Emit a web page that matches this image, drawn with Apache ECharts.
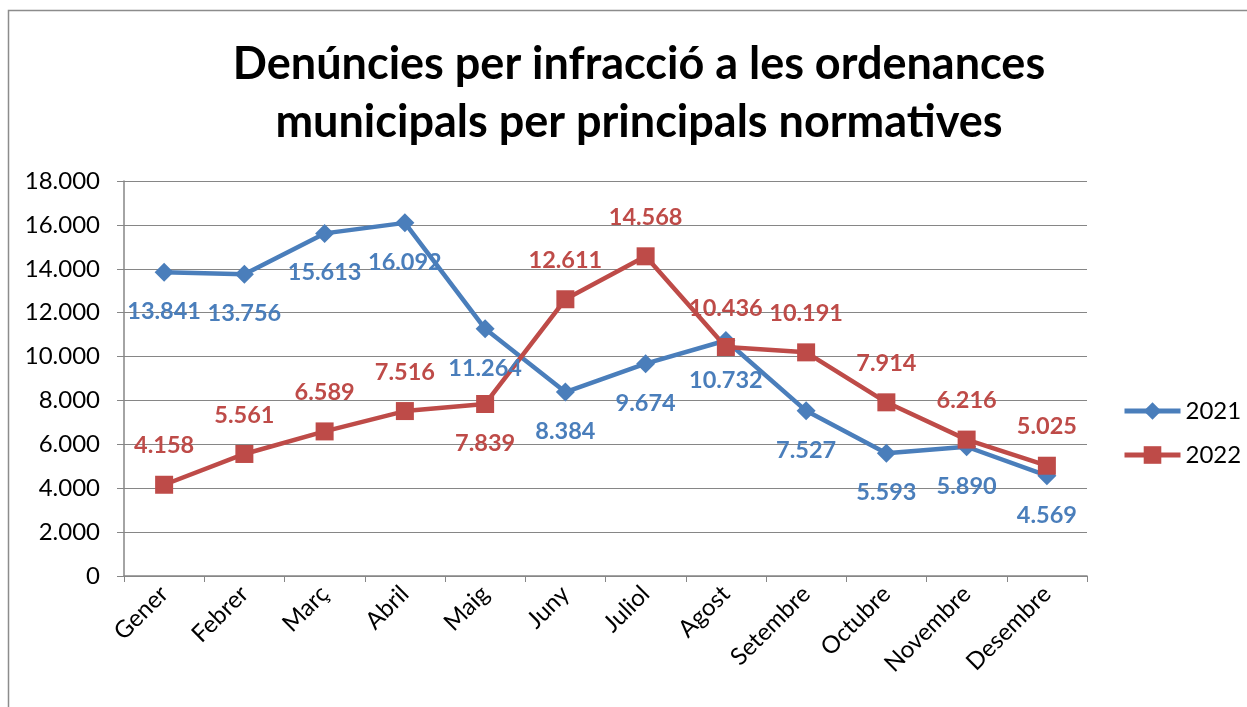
<!DOCTYPE html>
<html>
<head>
<meta charset="UTF-8">
<title>Denúncies per infracció</title>
<script type="text/javascript" src="https://cdn.jsdelivr.net/npm/echarts@6/dist/echarts.min.js"></script>
<style>
	html, body { margin: 0; padding: 0; background: #fff; }
</style>
</head>
<body>
	<div id="box" style="width: 1247px; height: 707px;"></div>

	<script type="text/javascript">
		var months = ['Gener', 'Febrer', 'Març', 'Abril', 'Maig', 'Juny', 'Juliol', 'Agost', 'Setembre', 'Octubre', 'Novembre', 'Desembre'];
		var vals2021 = [13841, 13756, 15613, 16092, 11264, 8384, 9674, 10732, 7527, 5593, 5890, 4569];
		var vals2022 = [4158, 5561, 6589, 7516, 7839, 12611, 14568, 10436, 10191, 7914, 6216, 5025];
		// posició de l'etiqueta de 2022 (Maig va a sota)
		var pos2022 = ['top', 'top', 'top', 'top', 'bottom', 'top', 'top', 'top', 'top', 'top', 'top', 'top'];

		var FONT = 'Lato, "Open Sans", sans-serif';

		function fmt(v) {
			return String(v).replace(/\B(?=(\d{3})+(?!\d))/g, '.');
		}

		var data2022 = vals2022.map(function (v, i) {
			return { value: v, label: { position: pos2022[i] } };
		});

		var myChart = echarts.init(document.getElementById('box'));
		myChart.setOption({
			animation: false,
			textStyle: { fontFamily: FONT },
			title: {
				text: 'Denúncies per infracció a les ordenances\nmunicipals per principals normatives',
				left: 634,
				textAlign: 'center',
				top: 30,
				textStyle: { fontSize: 45, fontWeight: 'bold', color: '#000', lineHeight: 58, fontFamily: FONT }
			},
			graphic: [{
				type: 'rect',
				shape: { x: 8.5, y: 10.5, width: 1260, height: 720 },
				style: { fill: 'none', stroke: '#8c8c8c', lineWidth: 1.5 },
				silent: true
			}],
			legend: {
				orient: 'vertical',
				left: 1117,
				top: 394,
				itemGap: 20,
				itemWidth: 56,
				itemHeight: 22,
				lineStyle: { width: 5 },
				textStyle: { fontSize: 24, color: '#000', fontFamily: FONT },
				data: ['2021', '2022']
			},
			grid: { left: 124, right: 160, top: 181, bottom: 131 },
			xAxis: {
				type: 'category',
				data: months,
				boundaryGap: true,
				axisLine: { lineStyle: { color: '#868686', width: 1.5 } },
				axisTick: { show: true, length: 6, lineStyle: { color: '#868686' } },
				axisLabel: { rotate: 45, fontSize: 24, color: '#000', margin: 14, fontFamily: FONT }
			},
			yAxis: {
				type: 'value',
				min: 0,
				max: 18000,
				interval: 2000,
				axisLine: { show: true, lineStyle: { color: '#868686', width: 1.5 } },
				axisTick: { show: true, length: 7, lineStyle: { color: '#868686' } },
				splitLine: { lineStyle: { color: '#868686', width: 1.2 } },
				axisLabel: { fontSize: 24, color: '#000', margin: 24, formatter: fmt, fontFamily: FONT }
			},
			series: [{
				name: '2021',
				type: 'line',
				data: vals2021,
				symbol: 'diamond',
				symbolSize: 19,
				lineStyle: { width: 4.5, color: '#4A7EBB' },
				itemStyle: { color: '#4A7EBB' },
				label: {
					show: true,
					position: 'bottom',
					distance: 18,
					fontSize: 23.5,
					fontWeight: 'bold',
					color: '#4A7EBB',
					fontFamily: FONT,
					formatter: function (p) { return fmt(p.value); }
				}
			}, {
				name: '2022',
				type: 'line',
				data: data2022,
				symbol: 'rect',
				symbolSize: 18,
				lineStyle: { width: 4.5, color: '#BE4B48' },
				itemStyle: { color: '#BE4B48' },
				label: {
					show: true,
					position: 'top',
					distance: 18,
					fontSize: 23.5,
					fontWeight: 'bold',
					color: '#BE4B48',
					fontFamily: FONT,
					formatter: function (p) { return fmt(p.value); }
				}
			}]
		});
	</script>
</body>
</html>
